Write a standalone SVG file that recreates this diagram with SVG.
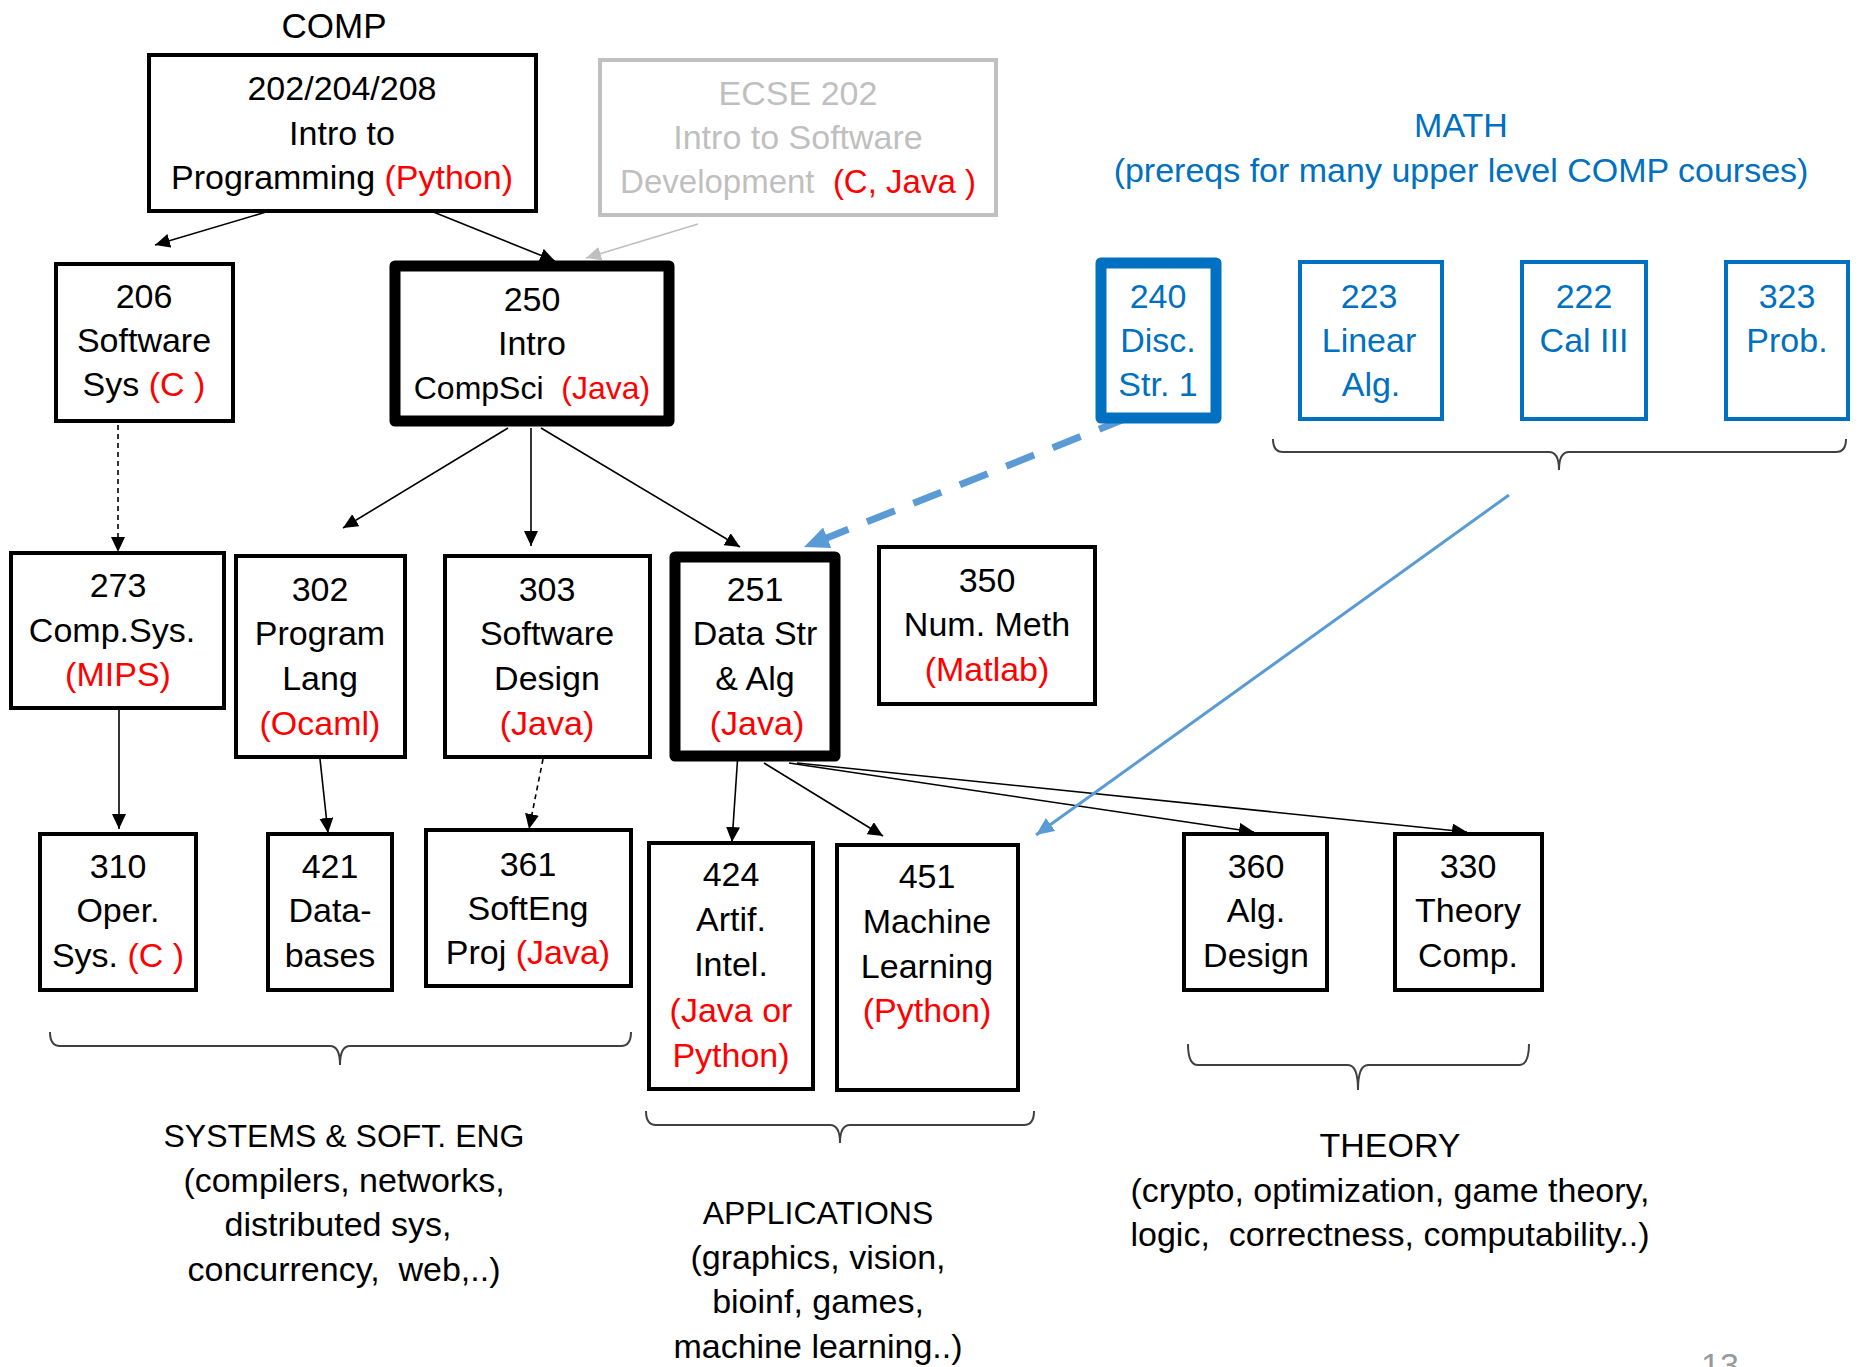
<svg xmlns="http://www.w3.org/2000/svg" width="1858" height="1367" viewBox="0 0 1858 1367">
<style>
text{font-family:"Liberation Sans",Arial,sans-serif;font-size:34px;text-anchor:middle;fill:#000;white-space:pre}
.r{fill:#ff0000}
.b{fill:#0070c0}
.g{fill:#bfbfbf}
.box{fill:#fff;stroke:#000;stroke-width:4}
.thick{fill:#fff;stroke:#000;stroke-width:11;stroke-linejoin:round}
.mbox{fill:#fff;stroke:#0070c0;stroke-width:4}
.mthick{fill:#fff;stroke:#0070c0;stroke-width:11;stroke-linejoin:round}
.gbox{fill:#fff;stroke:#c0c0c0;stroke-width:4}
.ln{fill:none;stroke:#000;stroke-width:1.6}
.br{fill:none;stroke:#404040;stroke-width:2}
</style>
<defs>
<marker id="ah" markerUnits="userSpaceOnUse" markerWidth="16" markerHeight="14" refX="15" refY="7" orient="auto"><path d="M0,0 L15,7 L0,14 z" fill="#000"/></marker>
<marker id="ahg" markerUnits="userSpaceOnUse" markerWidth="16" markerHeight="14" refX="15" refY="7" orient="auto"><path d="M0,0 L15,7 L0,14 z" fill="#bfbfbf"/></marker>
<marker id="ahb" markerUnits="userSpaceOnUse" markerWidth="26" markerHeight="22" refX="25" refY="11" orient="auto"><path d="M0,0 L25,11 L0,22 z" fill="#5b9bd5"/></marker>
<marker id="ahs" markerUnits="userSpaceOnUse" markerWidth="19" markerHeight="16" refX="18" refY="8" orient="auto"><path d="M0,0 L18,8 L0,16 z" fill="#5b9bd5"/></marker>
</defs>

<text x="334" y="38" style="font-size:35px">COMP</text>
<text class="b" x="1461" y="137">MATH</text>
<text class="b" x="1461" y="182">(prereqs for many upper level COMP courses)</text>

<g id="connectors">
<line class="ln" x1="266" y1="212" x2="155" y2="245" marker-end="url(#ah)"/>
<line class="ln" x1="421" y1="207" x2="555" y2="261" marker-end="url(#ah)"/>
<line x1="698" y1="224" x2="586" y2="258" stroke="#bfbfbf" stroke-width="1.6" marker-end="url(#ahg)"/>
<line class="ln" x1="118" y1="425" x2="118" y2="552" stroke-dasharray="5,4" marker-end="url(#ah)"/>
<line class="ln" x1="508" y1="428" x2="343" y2="528" marker-end="url(#ah)"/>
<line class="ln" x1="531" y1="428" x2="531" y2="546" marker-end="url(#ah)"/>
<line class="ln" x1="541" y1="428" x2="740" y2="547" marker-end="url(#ah)"/>
<line x1="1127" y1="418" x2="804" y2="547" stroke="#5b9bd5" stroke-width="7" stroke-dasharray="30,20" marker-end="url(#ahb)"/>
<line class="ln" x1="119" y1="704" x2="119" y2="829" marker-end="url(#ah)"/>
<line class="ln" x1="320" y1="759" x2="328" y2="833" marker-end="url(#ah)"/>
<line class="ln" x1="543" y1="759" x2="529" y2="829" stroke-dasharray="5,4" marker-end="url(#ah)"/>
<line class="ln" x1="741" y1="708" x2="732" y2="842" marker-end="url(#ah)"/>
<line class="ln" x1="764" y1="763" x2="883" y2="836" marker-end="url(#ah)"/>
<line class="ln" x1="789" y1="763" x2="1254" y2="832" marker-end="url(#ah)"/>
<line class="ln" x1="797" y1="763" x2="1467" y2="832" marker-end="url(#ah)"/>
<line x1="1509" y1="495" x2="1036" y2="835" stroke="#5b9bd5" stroke-width="3" marker-end="url(#ahs)"/>
</g>

<g id="n202"><rect class="box" x="149" y="55" width="387" height="156"/>
<text x="342" y="100">202/204/208</text><text x="342" y="145">Intro to</text><text x="342" y="189">Programming <tspan class="r">(Python)</tspan></text></g>

<g id="necse"><rect class="gbox" x="600" y="60" width="396" height="155"/>
<text class="g" x="798" y="105">ECSE 202</text><text class="g" x="798" y="149">Intro to Software</text><text class="g" x="798" y="193" style="font-size:33px">Development  <tspan class="r">(C, Java )</tspan></text></g>

<g id="n206"><rect class="box" x="56" y="264" width="177" height="157"/>
<text x="144" y="308">206</text><text x="144" y="352">Software</text><text x="144" y="396">Sys <tspan class="r">(C )</tspan></text></g>

<g id="n250"><rect class="thick" x="395" y="266" width="274" height="155"/>
<text x="532" y="311">250</text><text x="532" y="355">Intro</text><text x="532" y="399" style="font-size:32px">CompSci  <tspan class="r">(Java)</tspan></text></g>

<g id="n240"><rect class="mthick" x="1101" y="263" width="115" height="155"/>
<text class="b" x="1158" y="308">240</text><text class="b" x="1158" y="352">Disc.</text><text class="b" x="1158" y="396">Str. 1</text></g>

<g id="n223"><rect class="mbox" x="1300" y="262" width="142" height="157"/>
<text class="b" x="1369" y="308">223</text><text class="b" x="1369" y="352">Linear</text><text class="b" x="1371" y="396">Alg.</text></g>

<g id="n222"><rect class="mbox" x="1522" y="262" width="124" height="157"/>
<text class="b" x="1584" y="308">222</text><text class="b" x="1584" y="352">Cal III</text></g>

<g id="n323"><rect class="mbox" x="1726" y="262" width="122" height="157"/>
<text class="b" x="1787" y="308">323</text><text class="b" x="1787" y="352">Prob.</text></g>

<g id="n273"><rect class="box" x="11" y="553" width="213" height="155"/>
<text x="118" y="597">273</text><text x="112" y="642">Comp.Sys.</text><text class="r" x="118" y="686">(MIPS)</text></g>

<g id="n302"><rect class="box" x="236" y="556" width="169" height="201"/>
<text x="320" y="601">302</text><text x="320" y="645">Program</text><text x="320" y="690">Lang</text><text class="r" x="320" y="735">(Ocaml)</text></g>

<g id="n303"><rect class="box" x="445" y="556" width="205" height="201"/>
<text x="547" y="601">303</text><text x="547" y="645">Software</text><text x="547" y="690">Design</text><text class="r" x="547" y="735">(Java)</text></g>

<g id="n251"><rect class="thick" x="675" y="557" width="160" height="199"/>
<text x="755" y="601">251</text><text x="755" y="645">Data Str</text><text x="755" y="690">&amp; Alg</text><text class="r" x="757" y="735">(Java)</text></g>

<g id="n350"><rect class="box" x="879" y="547" width="216" height="157"/>
<text x="987" y="592">350</text><text x="987" y="636">Num. Meth</text><text class="r" x="987" y="681">(Matlab)</text></g>

<g id="n310"><rect class="box" x="40" y="834" width="156" height="156"/>
<text x="118" y="878">310</text><text x="118" y="922">Oper.</text><text x="118" y="967">Sys. <tspan class="r">(C )</tspan></text></g>

<g id="n421"><rect class="box" x="268" y="834" width="124" height="156"/>
<text x="330" y="878">421</text><text x="330" y="922">Data-</text><text x="330" y="967">bases</text></g>

<g id="n361"><rect class="box" x="426" y="830" width="205" height="156"/>
<text x="528" y="876">361</text><text x="528" y="920">SoftEng</text><text x="528" y="964">Proj <tspan class="r">(Java)</tspan></text></g>

<g id="n424"><rect class="box" x="649" y="843" width="164" height="246"/>
<text x="731" y="886">424</text><text x="731" y="931">Artif.</text><text x="731" y="976">Intel.</text><text class="r" x="731" y="1022">(Java or</text><text class="r" x="731" y="1067">Python)</text></g>

<g id="n451"><rect class="box" x="837" y="845" width="181" height="245"/>
<text x="927" y="888">451</text><text x="927" y="933">Machine</text><text x="927" y="978">Learning</text><text class="r" x="927" y="1022">(Python)</text></g>

<g id="n360"><rect class="box" x="1184" y="834" width="143" height="156"/>
<text x="1256" y="878">360</text><text x="1256" y="922">Alg.</text><text x="1256" y="967">Design</text></g>

<g id="n330"><rect class="box" x="1395" y="834" width="147" height="156"/>
<text x="1468" y="878">330</text><text x="1468" y="922">Theory</text><text x="1468" y="967">Comp.</text></g>

<g id="braces">
<path class="br" d="M1273,439 Q1273,452 1283,452 H1549 Q1559,452 1559,470 Q1559,452 1569,452 H1836 Q1846,452 1846,439"/>
<path class="br" d="M50,1032 Q50,1046 60,1046 H330 Q340,1046 340,1065 Q340,1046 350,1046 H621 Q631,1046 631,1032"/>
<path class="br" d="M646,1111 Q646,1125 656,1125 H830 Q840,1125 840,1143 Q840,1125 850,1125 H1024 Q1034,1125 1034,1111"/>
<path class="br" d="M1188,1044 Q1188,1065 1198,1065 H1348 Q1358,1065 1358,1090 Q1358,1065 1368,1065 H1519 Q1529,1065 1529,1044"/>
</g>

<g id="labels">
<text x="344" y="1147" style="font-size:32px">SYSTEMS &amp; SOFT. ENG</text>
<text x="344" y="1192">(compilers, networks,</text>
<text x="338" y="1236">distributed sys,</text>
<text x="344" y="1281">concurrency,  web,..)</text>
<text x="818" y="1224" style="font-size:32px">APPLICATIONS</text>
<text x="818" y="1269">(graphics, vision,</text>
<text x="818" y="1313">bioinf, games,</text>
<text x="818" y="1358">machine learning..)</text>
<text x="1390" y="1157">THEORY</text>
<text x="1390" y="1202">(crypto, optimization, game theory,</text>
<text x="1390" y="1246">logic,  correctness, computability..)</text>
<text x="1720" y="1377" style="fill:#999">13</text>
</g>
</svg>
